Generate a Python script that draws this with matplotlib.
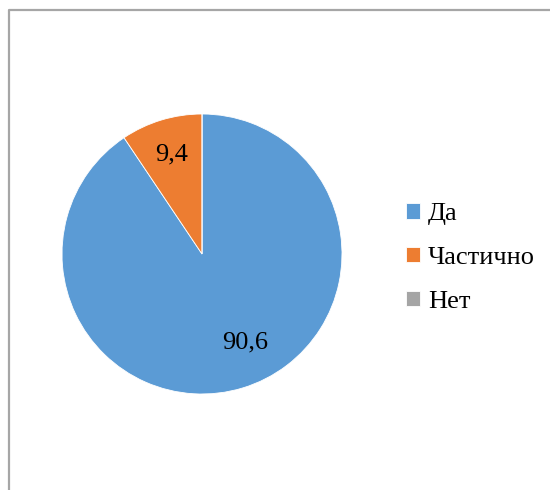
import matplotlib.pyplot as plt
from matplotlib.lines import Line2D
import numpy as np

plt.rcParams['font.family'] = ['Liberation Serif', 'DejaVu Serif']

# данные
categories = ['Да', 'Частично', 'Нет']
values = [90.6, 9.4, 0.0]
colors = ['#5B9BD5', '#ED7D31', '#A5A5A5']

W, H = 550, 490
fig = plt.figure(figsize=(W / 100, H / 100), dpi=100)

# рамка (видны только левая и верхняя стороны)
fx, fy = 9 / W, 1 - 10 / H
fig.add_artist(Line2D([fx, fx, 1], [0, fy, fy], color='#A6A6A6', lw=1.6,
                      transform=fig.transFigure))

# круговая диаграмма
cx, cy, r = 202, 254, 140
ax = fig.add_axes([(cx - r) / W, (H - cy - r) / H, 2 * r / W, 2 * r / H])


def fmt(p):
    return '' if p < 0.05 else ('%.1f' % p).replace('.', ',')


wedges, texts, autotexts = ax.pie(values, colors=colors, startangle=90, counterclock=False,
                                  autopct=fmt, pctdistance=0.74, radius=1,
                                  wedgeprops=dict(edgecolor='white', linewidth=0.6),
                                  textprops=dict(fontsize=19, color='black'))
ax.set_xlim(-1, 1)
ax.set_ylim(-1, 1)
ax.set_aspect('auto')

# подпись большого сектора — Excel "наилучшее размещение"
ang = np.deg2rad(-64)
autotexts[0].set_position((0.70 * np.cos(ang), 0.70 * np.sin(ang)))

fig.legend(wedges, categories, loc='center left', bbox_to_anchor=(406 / W, 1 - 258 / H),
           frameon=False, fontsize=19, handlelength=0.53, handleheight=0.53,
           handletextpad=0.3, labelspacing=0.82, borderpad=0, borderaxespad=0)

fig.savefig('out.png', dpi=100)
